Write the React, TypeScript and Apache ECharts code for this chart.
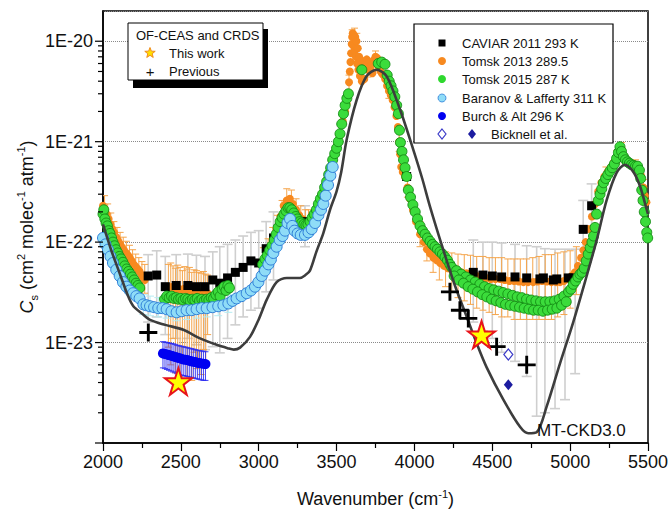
import React, { useEffect, useRef } from 'react';
import * as echarts from 'echarts';

const FONT = '"Liberation Sans", Arial, Helvetica, sans-serif';
const X_MIN = 2000;
const X_MAX = 5500;
const Y_MIN = 1e-24;
const Y_MAX = 2e-20;

// ---- axis ticks ----
const xTickInterval = 500;
const yMajorTicks = [1e-24, 1e-23, 1e-22, 1e-21, 1e-20];
const yMinorTicks = [
  2e-24, 3e-24, 4e-24, 5e-24, 6e-24, 7e-24, 8e-24, 9e-24,
  2e-23, 3e-23, 4e-23, 5e-23, 6e-23, 7e-23, 8e-23, 9e-23,
  2e-22, 3e-22, 4e-22, 5e-22, 6e-22, 7e-22, 8e-22, 9e-22,
  2e-21, 3e-21, 4e-21, 5e-21, 6e-21, 7e-21, 8e-21, 9e-21,
];

// ---- MT-CKD3.0 model curve ----
const mtckd = [
  [2000, 1.5e-22], [2053, 8.3e-23], [2107, 4.9e-23], [2161, 2.9e-23], [2195, 2.3e-23],
  [2250, 1.95e-23], [2302, 1.68e-23], [2400, 1.5e-23], [2516, 1.34e-23], [2623, 1.1e-23],
  [2730, 9.5e-24], [2800, 8.8e-24], [2840, 8.5e-24], [2880, 8.9e-24], [2944, 1.14e-23],
  [3000, 1.7e-23], [3051, 2.66e-23], [3115, 4.0e-23], [3180, 4.4e-23], [3265, 4.4e-23],
  [3300, 4.7e-23], [3329, 5.2e-23], [3370, 8.0e-23], [3415, 1.23e-22], [3458, 2.1e-22],
  [3500, 3.2e-22], [3530, 5.0e-22], [3565, 1.05e-21], [3629, 2.6e-21], [3693, 4.5e-21],
  [3757, 5.2e-21], [3821, 4.5e-21], [3907, 2.1e-21], [3993, 8.3e-22], [4050, 4.3e-22],
  [4100, 2.26e-22], [4185, 8.4e-23], [4260, 3.7e-23], [4335, 1.82e-23], [4400, 9.8e-24],
  [4463, 5.7e-24], [4571, 2.7e-24], [4678, 1.45e-24], [4731, 1.25e-24], [4785, 1.28e-24],
  [4849, 2.3e-24], [4935, 6.2e-24], [5020, 1.6e-23], [5106, 4.6e-23], [5170, 1.04e-22],
  [5234, 2.6e-22], [5298, 4.9e-22], [5352, 5.9e-22], [5406, 5.0e-22], [5449, 3.6e-22],
  [5492, 2.1e-22], [5500, 1.9e-22],
];

// ---- CAVIAR 2011 293 K ----
const caviar = [
  [2290, 4.6e-23], [2345, 4.7e-23], [2400, 3.6e-23], [2470, 3.7e-23], [2545, 3.7e-23],
  [2600, 3.6e-23], [2655, 3.6e-23], [2705, 4.2e-23], [2750, 3.9e-23], [2800, 4.4e-23],
  [2850, 5.0e-23], [2900, 5.6e-23], [2950, 6.5e-23], [3000, 6.2e-23], [3048, 8.6e-23],
  [3095, 1.1e-22], [3297, 1.6e-22], [3950, 4.5e-22],
  [4378, 5.0e-23], [4440, 4.7e-23], [4500, 4.6e-23], [4560, 4.5e-23], [4646, 4.5e-23],
  [4721, 4.4e-23], [4806, 4.3e-23], [4828, 4.4e-23], [4892, 4.2e-23], [4914, 4.3e-23],
  [4988, 4.4e-23], [5020, 4.4e-23], [5084, 1.34e-22], [5138, 2.3e-22],
];
const caviarErr = [
  [2290, 1.6e-23, 7.5e-23], [2345, 1.8e-23, 8.2e-23], [2400, 1.2e-23, 7.2e-23],
  [2470, 1.1e-23, 7.5e-23], [2545, 1.1e-23, 7.6e-23], [2600, 9.5e-24, 7.4e-23],
  [2655, 8.5e-24, 7.2e-23], [2705, 9.1e-24, 8.0e-23], [2750, 7.9e-24, 9.0e-23],
  [2800, 1.1e-23, 9.5e-23], [2850, 1.5e-23, 1.05e-22], [2900, 1.8e-23, 1.15e-22],
  [2950, 2.1e-23, 1.25e-22], [3000, 2.2e-23, 1.3e-22], [3048, 3.2e-23, 1.6e-22],
  [3095, 4.2e-23, 2.0e-22], [3297, 9.0e-23, 2.3e-22],
  [4378, 1.6e-23, 1.05e-22], [4440, 1.3e-23, 1.0e-22], [4500, 1.1e-23, 1.0e-22],
  [4560, 8.0e-24, 9.8e-23], [4646, 6.5e-24, 9.5e-23], [4721, 4.6e-24, 9.2e-23],
  [4785, 1.85e-24, 9.0e-23], [4838, 2.0e-24, 8.6e-23], [4903, 2.2e-24, 8.5e-23],
  [4967, 2.7e-24, 8.5e-23], [5032, 4.9e-24, 8.5e-23], [5084, 7.0e-23, 2.6e-22],
  [5138, 1.3e-22, 3.8e-22],
];

// ---- Tomsk 2013 289.5 ----
const tomsk2013 = [
  [2000, 2.3e-22], [2012, 2.1e-22], [2024, 1.9e-22], [2036, 1.7e-22], [2048, 1.5e-22],
  [2060, 1.35e-22], [2072, 1.25e-22], [2085, 1.12e-22], [2097, 1.03e-22], [2110, 9.6e-23],
  [2122, 8.9e-23], [2135, 8.3e-23], [2148, 7.8e-23], [2160, 7.4e-23], [2172, 7.0e-23],
  [2185, 6.5e-23], [2197, 6.0e-23], [2210, 5.7e-23], [2222, 5.4e-23], [2235, 5.1e-23],
  [2247, 4.7e-23], [2258, 4.4e-23], [2268, 4.2e-23],
  [2420, 3.6e-23], [2435, 3.5e-23], [2450, 3.6e-23], [2465, 3.4e-23], [2480, 3.5e-23],
  [2495, 3.4e-23], [2510, 3.35e-23], [2525, 3.45e-23], [2540, 3.3e-23], [2555, 3.35e-23],
  [2570, 3.25e-23], [2585, 3.3e-23], [2600, 3.2e-23], [2615, 3.2e-23], [2630, 3.1e-23],
  [2645, 3.15e-23], [2660, 3.05e-23], [2672, 3.1e-23],
  [3030, 6.5e-23], [3060, 8.0e-23], [3090, 1.05e-22], [3120, 1.4e-22], [3140, 1.8e-22],
  [3160, 2.3e-22], [3180, 2.6e-22], [3200, 2.7e-22], [3220, 2.4e-22], [3240, 2.1e-22],
  [3260, 1.85e-22], [3280, 1.7e-22], [3300, 1.6e-22], [3320, 1.62e-22],
  [3440, 4.2e-22], [3460, 5.5e-22], [3480, 7.0e-22], [3500, 9.0e-22], [3520, 1.15e-21],
  [3540, 1.6e-21], [3555, 2.0e-21], [3565, 2.4e-21], [3574, 3.0e-21], [3580, 3.9e-21],
  [3585, 5.0e-21], [3589, 6.2e-21], [3593, 7.6e-21], [3597, 9.4e-21], [3600, 1.1e-20],
  [3604, 1.2e-20], [3608, 9.0e-21], [3612, 1.15e-20], [3616, 8.0e-21], [3620, 1.1e-20],
  [3624, 7.0e-21], [3628, 1.0e-20], [3632, 6.0e-21], [3636, 8.5e-21], [3640, 5.2e-21],
  [3645, 7.0e-21], [3650, 4.5e-21], [3656, 6.5e-21], [3662, 4.0e-21], [3670, 5.5e-21],
  [3678, 4.2e-21], [3686, 6.0e-21], [3694, 6.6e-21], [3702, 5.2e-21], [3710, 6.2e-21],
  [3720, 5.6e-21], [3730, 4.8e-21], [3740, 6.5e-21], [3750, 7.0e-21], [3760, 6.8e-21],
  [3770, 5.6e-21], [3780, 5.1e-21], [3790, 4.8e-21], [3800, 4.6e-21], [3812, 4.2e-21],
  [3824, 3.6e-21], [3836, 3.2e-21], [3848, 2.9e-21], [3860, 2.6e-21], [3872, 2.2e-21],
  [3884, 1.8e-21], [3894, 1.4e-21], [3902, 1.0e-21], [3908, 7.5e-22], [3915, 5.6e-22],
  [3925, 5.0e-22], [3940, 4.5e-22], [3955, 3.5e-22], [3972, 2.7e-22], [3990, 2.1e-22],
  [4010, 1.6e-22], [4036, 1.2e-22], [4060, 1.0e-22], [4080, 8.5e-23], [4100, 7.7e-23],
  [4122, 7.0e-23], [4143, 6.6e-23], [4165, 6.2e-23], [4190, 5.8e-23], [4215, 5.5e-23],
  [4240, 5.3e-23], [4270, 5.1e-23], [4300, 5.0e-23], [4335, 4.9e-23], [4370, 4.7e-23],
  [4400, 4.6e-23], [4430, 4.5e-23], [4460, 4.4e-23], [4490, 4.3e-23], [4520, 4.3e-23],
  [4550, 4.3e-23], [4580, 4.2e-23], [4610, 4.1e-23], [4640, 4.1e-23], [4670, 4.05e-23],
  [4700, 4.0e-23], [4730, 4.0e-23], [4763, 4.0e-23], [4790, 4.05e-23], [4820, 4.1e-23],
  [4850, 4.05e-23], [4880, 4.0e-23], [4910, 4.0e-23], [4935, 4.0e-23], [4960, 4.1e-23],
  [4990, 4.3e-23], [5010, 4.6e-23], [5030, 5.0e-23], [5050, 5.8e-23], [5070, 7.0e-23],
  [5085, 8.3e-23], [5100, 1.0e-22], [5120, 1.35e-22], [5140, 1.8e-22], [5160, 2.4e-22],
  [5180, 3.2e-22], [5200, 3.9e-22], [5220, 4.5e-22], [5240, 5.0e-22], [5260, 5.5e-22],
  [5280, 6.2e-22], [5300, 7.0e-22], [5315, 8.0e-22], [5330, 8.5e-22], [5345, 7.2e-22],
  [5360, 6.5e-22], [5380, 6.1e-22], [5400, 5.8e-22], [5420, 5.7e-22], [5440, 5.5e-22],
  [5455, 4.6e-22], [5470, 3.5e-22], [5480, 2.9e-22], [5490, 2.5e-22],
];
const tomsk2013Err = [
  [2010, 1.7e-22, 2.9e-22], [2030, 1.4e-22, 2.4e-22], [2050, 1.15e-22, 1.95e-22],
  [2070, 9.6e-23, 1.6e-22], [2090, 8.4e-23, 1.4e-22], [2110, 7.5e-23, 1.25e-22],
  [2130, 6.6e-23, 1.12e-22], [2150, 6.0e-23, 1.02e-22], [2170, 5.5e-23, 9.3e-23],
  [2190, 4.8e-23, 8.4e-23], [2210, 4.3e-23, 7.6e-23], [2230, 3.8e-23, 7.0e-23],
  [2250, 3.4e-23, 6.4e-23], [2268, 3.1e-23, 6.0e-23],
  [2420, 9.0e-24, 6.0e-23], [2435, 6.0e-24, 6.2e-23], [2450, 1.1e-23, 5.8e-23],
  [2465, 5.0e-24, 5.5e-23], [2480, 7.5e-24, 5.9e-23], [2495, 4.6e-24, 5.6e-23],
  [2510, 6.5e-24, 5.2e-23], [2525, 9.0e-24, 5.7e-23], [2540, 4.4e-24, 5.4e-23],
  [2555, 7.0e-24, 5.6e-23], [2570, 4.2e-24, 5.0e-23], [2585, 8.0e-24, 5.3e-23],
  [2600, 5.5e-24, 5.2e-23], [2615, 6.5e-24, 5.0e-23], [2630, 4.8e-24, 4.9e-23],
  [2645, 8.5e-24, 5.1e-23], [2660, 6.0e-24, 4.8e-23], [2672, 1.2e-23, 4.7e-23],
  [3030, 4.8e-23, 8.8e-23], [3060, 6.0e-23, 1.08e-22], [3090, 7.8e-23, 1.4e-22],
  [3120, 1.05e-22, 1.85e-22], [3150, 1.5e-22, 2.6e-22], [3180, 1.9e-22, 3.4e-22],
  [3210, 1.9e-22, 3.3e-22], [3240, 1.55e-22, 2.7e-22], [3270, 1.3e-22, 2.3e-22],
  [3300, 1.15e-22, 2.1e-22], [3320, 1.15e-22, 2.1e-22],
  [3580, 3.2e-21, 4.6e-21], [3600, 9.5e-21, 1.3e-20], [3615, 1.0e-20, 1.35e-20],
  [3630, 8.5e-21, 1.2e-20], [3700, 4.4e-21, 6.0e-21], [3750, 6.0e-21, 8.0e-21],
  [3836, 2.7e-21, 3.7e-21], [3902, 8.0e-22, 1.25e-21], [3955, 2.8e-22, 4.3e-22],
  [4036, 9.0e-23, 1.6e-22], [4080, 6.5e-23, 1.15e-22], [4120, 5.0e-23, 9.5e-23],
  [4160, 4.2e-23, 8.5e-23], [4200, 3.6e-23, 8.0e-23], [4240, 3.2e-23, 7.8e-23],
  [4280, 2.8e-23, 7.6e-23], [4320, 2.6e-23, 7.5e-23], [4360, 2.4e-23, 7.4e-23],
  [4400, 2.2e-23, 7.2e-23], [4440, 2.1e-23, 7.2e-23], [4480, 2.0e-23, 7.0e-23],
  [4520, 1.9e-23, 7.0e-23], [4560, 1.8e-23, 7.0e-23], [4600, 1.8e-23, 6.8e-23],
  [4640, 1.7e-23, 6.8e-23], [4680, 1.7e-23, 6.8e-23], [4720, 1.7e-23, 6.8e-23],
  [4760, 1.7e-23, 7.0e-23], [4800, 1.7e-23, 7.2e-23], [4840, 1.7e-23, 7.5e-23],
  [4880, 1.7e-23, 7.5e-23], [4920, 1.8e-23, 7.8e-23], [4960, 1.9e-23, 8.0e-23],
  [5000, 2.2e-23, 8.2e-23], [5040, 3.0e-23, 9.0e-23],
  [5230, 4.0e-22, 5.6e-22], [5300, 6.0e-22, 8.2e-22], [5330, 7.4e-22, 9.8e-22],
  [5420, 5.0e-22, 6.6e-22], [5470, 3.0e-22, 4.2e-22],
];

// ---- Tomsk 2015 287 K ----
const tomsk2015 = [
  [2000, 1.9e-22], [2005, 2.1e-22], [2012, 1.7e-22], [2020, 1.55e-22], [2028, 1.45e-22],
  [2036, 1.3e-22], [2045, 1.22e-22], [2055, 1.1e-22], [2064, 1.0e-22], [2074, 9.2e-23],
  [2084, 8.4e-23], [2095, 7.8e-23], [2105, 7.2e-23], [2116, 6.8e-23], [2128, 6.3e-23],
  [2140, 5.8e-23], [2152, 5.4e-23], [2164, 5.1e-23], [2176, 4.8e-23], [2188, 4.5e-23],
  [2200, 4.2e-23], [2212, 3.9e-23], [2224, 3.7e-23], [2236, 3.5e-23],
  [2395, 2.7e-23], [2410, 2.9e-23], [2425, 2.8e-23], [2440, 2.9e-23], [2455, 2.75e-23],
  [2470, 2.8e-23], [2485, 2.7e-23], [2500, 2.75e-23], [2515, 2.65e-23], [2530, 2.75e-23],
  [2545, 2.7e-23], [2560, 2.6e-23], [2575, 2.7e-23], [2590, 2.65e-23], [2605, 2.75e-23],
  [2620, 2.6e-23], [2635, 2.7e-23], [2650, 2.6e-23], [2665, 2.7e-23], [2680, 2.65e-23],
  [2695, 2.8e-23], [2710, 2.75e-23], [2725, 3.0e-23], [2740, 3.2e-23], [2752, 2.9e-23],
  [2765, 3.4e-23], [2778, 3.6e-23], [2790, 3.3e-23], [2802, 3.7e-23], [2812, 3.5e-23],
  [3025, 6.0e-23], [3040, 6.8e-23], [3055, 7.4e-23], [3070, 8.3e-23], [3085, 9.2e-23],
  [3100, 1.05e-22], [3112, 1.2e-22], [3125, 1.4e-22], [3138, 1.6e-22], [3150, 1.75e-22],
  [3162, 1.9e-22], [3175, 2.05e-22], [3188, 2.2e-22], [3200, 2.2e-22], [3212, 2.1e-22],
  [3225, 1.95e-22], [3238, 1.8e-22], [3250, 1.7e-22], [3263, 1.6e-22], [3276, 1.55e-22],
  [3290, 1.5e-22], [3303, 1.48e-22], [3316, 1.5e-22], [3330, 1.6e-22], [3343, 1.75e-22],
  [3356, 1.9e-22], [3370, 2.1e-22], [3383, 2.4e-22], [3396, 2.7e-22], [3410, 3.0e-22],
  [3423, 3.5e-22], [3436, 4.0e-22], [3449, 4.7e-22], [3462, 5.5e-22], [3475, 6.6e-22],
  [3488, 7.6e-22], [3500, 8.6e-22], [3511, 1.0e-21], [3522, 1.2e-21], [3533, 1.5e-21],
  [3544, 1.9e-21], [3555, 2.3e-21], [3566, 2.7e-21], [3576, 3.0e-21],
  [3662, 5.2e-21], [3768, 6.0e-21], [3790, 6.2e-21], [3811, 5.9e-21], [3825, 4.6e-21],
  [3838, 4.0e-21], [3850, 3.6e-21], [3862, 3.2e-21], [3874, 2.8e-21], [3886, 2.3e-21],
  [3897, 1.9e-21], [3904, 1.3e-21], [3910, 9.8e-22], [3920, 8.0e-22], [3930, 6.6e-22],
  [3940, 5.5e-22], [3950, 4.5e-22], [3961, 3.3e-22], [3975, 2.8e-22], [3990, 2.35e-22],
  [4005, 2.0e-22], [4020, 1.7e-22], [4036, 1.45e-22], [4052, 1.3e-22], [4068, 1.2e-22],
  [4084, 1.1e-22], [4100, 1.02e-22], [4116, 9.5e-23], [4132, 9.0e-23], [4148, 8.5e-23],
  [4164, 8.0e-23], [4180, 7.6e-23], [4196, 7.1e-23], [4212, 6.6e-23], [4228, 6.0e-23],
  [4240, 5.6e-23], [4270, 5.2e-23], [4300, 4.8e-23], [4330, 4.5e-23], [4360, 4.2e-23],
  [4390, 4.0e-23], [4420, 3.8e-23], [4450, 3.6e-23], [4480, 3.45e-23], [4510, 3.35e-23],
  [4540, 3.25e-23], [4570, 3.15e-23], [4600, 3.05e-23], [4630, 2.95e-23], [4660, 2.85e-23],
  [4690, 2.8e-23], [4720, 2.7e-23], [4750, 2.65e-23], [4780, 2.6e-23], [4810, 2.55e-23],
  [4840, 2.55e-23], [4870, 2.55e-23], [4900, 2.6e-23], [4930, 2.7e-23], [4960, 2.9e-23],
  [4990, 3.2e-23],
  [4255, 4.6e-23], [4285, 4.2e-23], [4315, 3.9e-23], [4345, 3.6e-23], [4375, 3.4e-23],
  [4405, 3.2e-23], [4435, 3.0e-23], [4465, 2.85e-23], [4495, 2.7e-23], [4525, 2.6e-23],
  [4555, 2.5e-23], [4585, 2.4e-23], [4615, 2.35e-23], [4645, 2.3e-23], [4675, 2.25e-23],
  [4705, 2.2e-23], [4735, 2.15e-23], [4765, 2.1e-23], [4795, 2.1e-23], [4825, 2.05e-23],
  [4855, 2.1e-23], [4885, 2.15e-23], [4915, 2.2e-23], [4945, 2.35e-23], [4975, 2.55e-23],
  [5005, 3.4e-23], [5020, 3.8e-23], [5035, 4.1e-23], [5050, 4.5e-23], [5063, 4.8e-23],
  [5076, 5.0e-23], [5090, 5.5e-23], [5103, 6.5e-23], [5116, 7.6e-23], [5128, 8.8e-23],
  [5140, 1.0e-22], [5150, 1.15e-22], [5160, 1.4e-22], [5170, 1.9e-22], [5181, 2.6e-22],
  [5192, 3.0e-22], [5203, 3.4e-22], [5214, 3.9e-22], [5228, 4.3e-22], [5242, 4.7e-22],
  [5256, 5.1e-22], [5270, 5.5e-22], [5284, 6.0e-22], [5298, 6.8e-22], [5310, 7.8e-22],
  [5320, 8.9e-22], [5330, 8.0e-22], [5342, 7.1e-22], [5355, 6.6e-22], [5368, 6.3e-22],
  [5381, 6.1e-22], [5394, 5.9e-22], [5407, 5.8e-22], [5420, 5.7e-22], [5433, 5.7e-22],
  [5445, 5.2e-22], [5453, 4.3e-22], [5460, 3.3e-22], [5468, 2.6e-22], [5476, 2.0e-22],
  [5484, 1.6e-22], [5492, 1.25e-22], [5498, 1.1e-22],
];

// ---- Baranov & Lafferty 311 K ----
const baranov = [
  [2000, 1.1e-22], [2016, 9.5e-23], [2032, 8.4e-23], [2048, 7.2e-23], [2064, 6.2e-23],
  [2085, 5.3e-23], [2107, 4.6e-23], [2128, 4.0e-23], [2150, 3.6e-23], [2172, 3.3e-23],
  [2193, 3.1e-23], [2214, 2.9e-23], [2235, 2.75e-23], [2259, 2.4e-23], [2280, 2.35e-23],
  [2302, 2.3e-23], [2328, 2.25e-23], [2355, 2.2e-23], [2382, 2.2e-23], [2409, 2.15e-23],
  [2440, 2.05e-23], [2473, 2.0e-23], [2505, 2.05e-23], [2537, 2.1e-23], [2569, 2.1e-23],
  [2601, 2.15e-23], [2634, 2.2e-23], [2666, 2.2e-23], [2703, 2.25e-23], [2740, 2.3e-23],
  [2773, 2.35e-23], [2805, 2.45e-23], [2832, 2.6e-23], [2858, 2.75e-23], [2890, 2.9e-23],
  [2923, 3.1e-23], [2950, 3.3e-23], [2976, 3.6e-23], [2998, 4.0e-23], [3019, 4.6e-23],
  [3040, 5.2e-23], [3062, 6.0e-23], [3078, 6.7e-23], [3094, 7.8e-23], [3115, 9.0e-23],
  [3135, 1.05e-22], [3153, 1.15e-22], [3169, 1.3e-22], [3185, 1.55e-22], [3201, 1.7e-22],
  [3215, 1.45e-22], [3230, 1.3e-22], [3250, 1.22e-22], [3270, 1.18e-22], [3297, 1.18e-22],
  [3320, 1.25e-22], [3340, 1.35e-22], [3362, 1.55e-22], [3383, 1.85e-22], [3400, 2.1e-22],
  [3415, 2.4e-22], [3430, 2.9e-22], [3445, 3.7e-22], [3460, 4.6e-22], [3475, 5.6e-22],
];
const baranovErr = [
  [2259, 1.9e-23, 3.0e-23], [2302, 1.85e-23, 2.9e-23], [2355, 1.8e-23, 2.8e-23],
  [2409, 1.75e-23, 2.7e-23], [2473, 1.65e-23, 2.6e-23], [2537, 1.7e-23, 2.65e-23],
  [2601, 1.75e-23, 2.7e-23], [2666, 1.8e-23, 2.75e-23], [2740, 1.85e-23, 2.85e-23],
  [2805, 2.0e-23, 3.0e-23],
];

// ---- Burch & Alt 296 K ----
const burch = [
  [2385, 7.8e-24], [2398, 7.7e-24], [2411, 7.6e-24], [2424, 7.5e-24], [2437, 7.4e-24],
  [2450, 7.3e-24], [2463, 7.2e-24], [2476, 7.1e-24], [2489, 7.0e-24], [2502, 6.9e-24],
  [2515, 6.8e-24], [2528, 6.75e-24], [2541, 6.7e-24], [2554, 6.6e-24], [2567, 6.5e-24],
  [2580, 6.45e-24], [2593, 6.4e-24], [2606, 6.3e-24], [2619, 6.25e-24], [2632, 6.2e-24],
  [2645, 6.15e-24], [2658, 6.1e-24],
];
const burchErr = [
  [2385, 5.6e-24, 1.02e-23], [2398, 5.5e-24, 1.01e-23], [2411, 5.4e-24, 1.0e-23],
  [2424, 5.3e-24, 9.9e-24], [2437, 5.2e-24, 9.8e-24], [2450, 5.1e-24, 9.7e-24],
  [2463, 5.0e-24, 9.6e-24], [2476, 4.9e-24, 9.4e-24], [2489, 4.8e-24, 9.3e-24],
  [2502, 4.75e-24, 9.2e-24], [2515, 4.7e-24, 9.1e-24], [2528, 4.65e-24, 9.0e-24],
  [2541, 4.6e-24, 8.9e-24], [2554, 4.55e-24, 8.8e-24], [2567, 4.5e-24, 8.7e-24],
  [2580, 4.45e-24, 8.6e-24], [2593, 4.4e-24, 8.5e-24], [2606, 4.35e-24, 8.4e-24],
  [2619, 4.3e-24, 8.3e-24], [2632, 4.25e-24, 8.25e-24], [2645, 4.2e-24, 8.2e-24],
  [2658, 4.2e-24, 8.1e-24],
];

// ---- Bicknell et al. ----
const bicknellOpen = [[4603, 7.6e-24]];
const bicknellFilled = [[4603, 3.8e-24]];

// ---- OF-CEAS and CRDS ----
const thisWork = [[2484, 4.1e-24], [4431, 1.2e-23]];
const previous = [
  [2291, 1.26e-23], [4228, 3.2e-23], [4292, 2.1e-23], [4346, 1.74e-23],
  [4528, 9.1e-24], [4721, 6.0e-24],
];

const STAR = 'path://M50,0L61.8,35.1L98.5,35.1L68.8,56.7L80.2,91.9L50,70.2L19.8,91.9L31.2,56.7L1.5,35.1L38.2,35.1Z';
const PLUS = 'path://M42,0H58V42H100V58H58V100H42V58H0V42H42Z';

function starPoints(cx: number, cy: number, r: number) {
  const pts: number[][] = [];
  for (let i = 0; i < 10; i++) {
    const rr = i % 2 === 0 ? r : r * 0.42;
    const a = -Math.PI / 2 + (i * Math.PI) / 5;
    pts.push([cx + rr * Math.cos(a), cy + rr * Math.sin(a)]);
  }
  return pts;
}
function diamondPoints(cx: number, cy: number, w: number, h: number) {
  return [[cx, cy - h], [cx + w, cy], [cx, cy + h], [cx - w, cy]];
}

function errRender(color: string, cap: number, lw: number) {
  return (params: any, api: any) => {
    const x = api.value(0);
    const a = api.coord([x, api.value(1)]);
    const b = api.coord([x, api.value(2)]);
    const style = { stroke: color, lineWidth: lw, fill: 'none' };
    return {
      type: 'group',
      children: [
        { type: 'line', shape: { x1: a[0], y1: a[1], x2: b[0], y2: b[1] }, style },
        { type: 'line', shape: { x1: a[0] - cap, y1: a[1], x2: a[0] + cap, y2: a[1] }, style },
        { type: 'line', shape: { x1: b[0] - cap, y1: b[1], x2: b[0] + cap, y2: b[1] }, style },
      ],
    };
  };
}
function tickRender(len: number) {
  return (params: any, api: any) => {
    const p = api.coord([api.value(0), api.value(1)]);
    return {
      type: 'line',
      shape: { x1: p[0] - len, y1: p[1], x2: p[0], y2: p[1] },
      style: { stroke: '#000', lineWidth: 1.2 },
    };
  };
}

const txt = (x: number, y: number, text: string, extra: any = {}) => ({
  type: 'text',
  x,
  y,
  z: 102,
  style: { text, font: `13px ${FONT}`, fill: '#111', verticalAlign: 'middle', ...extra },
});

const rowY = [43, 61, 79, 98, 116, 134];
const MX = 442;
const TX = 462;

export default function App() {
  const ref = useRef<HTMLDivElement>(null);
  useEffect(() => {
    if (!ref.current) return;
    const chart = echarts.init(ref.current, null, { renderer: 'svg' });
    const option: any = {
      animation: false,
      backgroundColor: '#fff',
      grid: {
        left: 103, right: 20, top: 11, bottom: 68,
        show: true, borderColor: '#000', borderWidth: 1.5, backgroundColor: 'transparent',
        containLabel: false, outerBoundsMode: 'none',
      },
      xAxis: {
        type: 'value', min: X_MIN, max: X_MAX, interval: xTickInterval,
        axisLine: { show: true, onZero: false, lineStyle: { color: '#000', width: 1.5 } },
        axisTick: { show: true, length: 8, lineStyle: { color: '#000', width: 1.2 } },
        minorTick: { show: true, splitNumber: 2, length: 5, lineStyle: { color: '#000', width: 1.2 } },
        axisLabel: { fontSize: 18, color: '#111', margin: 10, fontFamily: FONT, formatter: (v: number) => String(v) },
        splitLine: { show: false },
        name: '{n|Wavenumber (cm}{sup|-1}{n|)}',
        nameLocation: 'middle', nameGap: 45, nameMoveOverlap: false,
        nameTextStyle: {
          rich: {
            n: { fontSize: 18, fontFamily: FONT, color: '#111', lineHeight: 22 },
            sup: { fontSize: 11, fontFamily: FONT, color: '#111', verticalAlign: 'top', lineHeight: 12 },
          },
        },
      },
      yAxis: {
        type: 'log', logBase: 10, min: Y_MIN, max: Y_MAX,
        axisLine: { show: true, onZero: false, lineStyle: { color: '#000', width: 1.5 } },
        axisTick: { show: false },
        axisLabel: {
          fontSize: 18, color: '#111', margin: 10, fontFamily: FONT,
          formatter: (v: number) => {
            const e = Math.log10(v);
            const r = Math.round(e);
            return Math.abs(e - r) < 1e-6 ? '1E' + r : '';
          },
        },
        splitLine: { show: true, lineStyle: { type: 'dotted', color: '#8a8a8a', width: 1 } },
      },
      series: [
        { type: 'custom', name: 'yMajor', data: yMajorTicks.map((v) => [X_MIN, v]), renderItem: tickRender(8), clip: false, silent: true, z: 20 },
        { type: 'custom', name: 'yMinor', data: yMinorTicks.map((v) => [X_MIN, v]), renderItem: tickRender(5), clip: false, silent: true, z: 20 },
        { type: 'custom', name: 'caviarErr', data: caviarErr, encode: { x: 0, y: [1, 2] }, renderItem: errRender('#cfcfcf', 5, 1.6), clip: true, silent: true, z: 2 },
        { type: 'custom', name: 'tomsk2013Err', data: tomsk2013Err, encode: { x: 0, y: [1, 2] }, renderItem: errRender('#f5a54c', 3.5, 1), clip: true, silent: true, z: 3 },
        { type: 'custom', name: 'baranovErr', data: baranovErr, encode: { x: 0, y: [1, 2] }, renderItem: errRender('#b5ecf2', 4, 1), clip: true, silent: true, z: 3 },
        { type: 'custom', name: 'burchErr', data: burchErr, encode: { x: 0, y: [1, 2] }, renderItem: errRender('#2a2af0', 3, 0.9), clip: true, silent: true, z: 3 },
        { type: 'scatter', name: 'Tomsk 2013 289.5', data: tomsk2013, symbol: 'circle', symbolSize: 8, itemStyle: { color: '#f7891f', opacity: 1 }, z: 4 },
        { type: 'scatter', name: 'CAVIAR 2011 293 K', data: caviar, symbol: 'rect', symbolSize: 9, itemStyle: { color: '#000', opacity: 1 }, z: 5 },
        { type: 'scatter', name: 'Tomsk 2015 287 K', data: tomsk2015, symbol: 'circle', symbolSize: 10, itemStyle: { color: '#3bdc3b', borderColor: '#148a14', borderWidth: 0.9, opacity: 1 }, z: 6 },
        { type: 'scatter', name: 'Baranov & Lafferty 311 K', data: baranov, symbol: 'circle', symbolSize: 11, itemStyle: { color: '#8fdcf7', borderColor: '#2f7fd8', borderWidth: 1, opacity: 1 }, z: 7 },
        { type: 'scatter', name: 'Burch & Alt 296 K', data: burch, symbol: 'circle', symbolSize: 10, itemStyle: { color: '#0000f0', opacity: 1 }, z: 7 },
        { type: 'line', name: 'MT-CKD3.0', data: mtckd, showSymbol: false, symbol: 'none', smooth: 0.3, lineStyle: { color: '#3d3d3d', width: 2.6 }, z: 8 },
        { type: 'scatter', name: 'Bicknell open', data: bicknellOpen, symbol: 'diamond', symbolSize: [9, 11], itemStyle: { color: '#ffffff', borderColor: '#3a3ac8', borderWidth: 1.2, opacity: 1 }, z: 9 },
        { type: 'scatter', name: 'Bicknell filled', data: bicknellFilled, symbol: 'diamond', symbolSize: [9, 11], itemStyle: { color: '#1c1ca0', opacity: 1 }, z: 9 },
        { type: 'scatter', name: 'Previous', data: previous, symbol: PLUS, symbolSize: 18, itemStyle: { color: '#000', opacity: 1 }, z: 10 },
        { type: 'scatter', name: 'This work', data: thisWork, symbol: STAR, symbolSize: 27, itemStyle: { color: '#ffff00', borderColor: '#e8141b', borderWidth: 2, opacity: 1 }, z: 11 },
      ],
      graphic: [
        {
          type: 'text', x: 27, y: 227, rotation: Math.PI / 2, z: 102,
          style: {
            text: '{i|C}{sub|s}{n| (cm}{sup|2}{n| molec}{sup|-1}{n| atm}{sup|-1}{n|)}',
            align: 'center', verticalAlign: 'middle',
            rich: {
              i: { font: `italic 18px ${FONT}`, fill: '#111', lineHeight: 24 },
              n: { font: `18px ${FONT}`, fill: '#111', lineHeight: 24 },
              sup: { font: `11px ${FONT}`, fill: '#111', verticalAlign: 'top', lineHeight: 14 },
              sub: { font: `11px ${FONT}`, fill: '#111', verticalAlign: 'bottom', lineHeight: 12 },
            },
          },
        },
        { type: 'text', x: 537, y: 430, z: 102, style: { text: 'MT-CKD3.0', font: `17px ${FONT}`, fill: '#111', verticalAlign: 'middle' } },
        // left legend
        { type: 'rect', z: 100, shape: { x: 133, y: 29, width: 135, height: 59 }, style: { fill: '#000' } },
        { type: 'rect', z: 101, shape: { x: 128, y: 23, width: 135, height: 57 }, style: { fill: '#fff', stroke: '#000', lineWidth: 1 } },
        txt(136, 35, 'OF-CEAS and CRDS'),
        { type: 'polygon', z: 102, shape: { points: starPoints(150, 53, 5.5) }, style: { fill: '#ffe000', stroke: '#f08a1c', lineWidth: 1 } },
        txt(169, 53, 'This work'),
        txt(150, 71, '+', { align: 'center', font: `15px ${FONT}` }),
        txt(169, 71, 'Previous'),
        // right legend
        { type: 'rect', z: 100, shape: { x: 414, y: 24, width: 199, height: 119 }, style: { fill: '#fff', stroke: '#000', lineWidth: 1.2 } },
        { type: 'rect', z: 102, shape: { x: MX - 3.5, y: rowY[0] - 3.5, width: 7, height: 7 }, style: { fill: '#000' } },
        txt(TX, rowY[0], 'CAVIAR 2011 293 K'),
        { type: 'circle', z: 102, shape: { cx: MX, cy: rowY[1], r: 4 }, style: { fill: '#f7891f' } },
        txt(TX, rowY[1], 'Tomsk 2013 289.5'),
        { type: 'circle', z: 102, shape: { cx: MX, cy: rowY[2], r: 4 }, style: { fill: '#2ed82e' } },
        txt(TX, rowY[2], 'Tomsk 2015 287 K'),
        { type: 'circle', z: 102, shape: { cx: MX, cy: rowY[3], r: 4 }, style: { fill: '#8fdcf7', stroke: '#2f7fd8', lineWidth: 0.8 } },
        txt(TX, rowY[3], 'Baranov & Lafferty 311 K'),
        { type: 'circle', z: 102, shape: { cx: MX, cy: rowY[4], r: 4 }, style: { fill: '#0000f0' } },
        txt(TX, rowY[4], 'Burch & Alt 296 K'),
        { type: 'polygon', z: 102, shape: { points: diamondPoints(MX, rowY[5], 4, 5) }, style: { fill: '#fff', stroke: '#3a3ac8', lineWidth: 1.2 } },
        { type: 'polygon', z: 102, shape: { points: diamondPoints(472, rowY[5], 4, 5) }, style: { fill: '#1c1ca0' } },
        txt(491, rowY[5], 'Bicknell et al.'),
      ],
    };
    chart.setOption(option);
    return () => chart.dispose();
  }, []);
  return (
    <div
      ref={ref}
      style={{ position: 'fixed', left: 0, top: 0, width: 668, height: 511, background: '#fff' }}
    />
  );
}
